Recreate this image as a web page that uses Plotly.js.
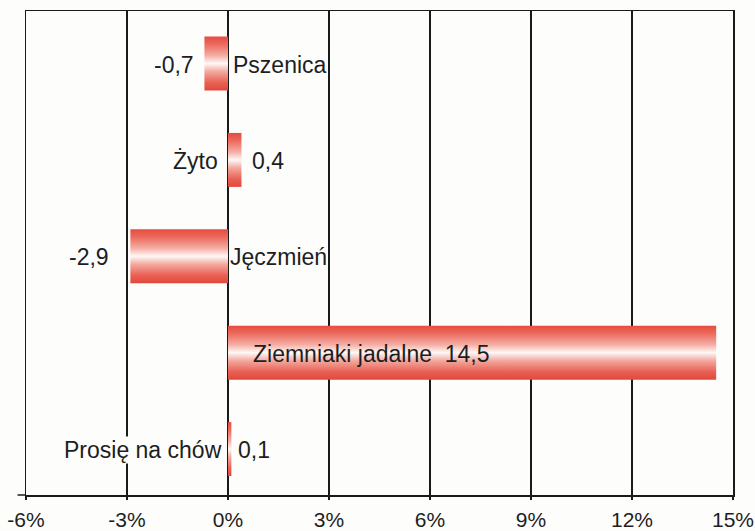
<!DOCTYPE html>
<html>
<head>
<meta charset="utf-8">
<script src="https://cdn.plot.ly/plotly-3.0.1.min.js"></script>
<style>
  html, body { margin: 0; padding: 0; background: #fdfdfc; }
  #chart { width: 755px; height: 531px; }
</style>
</head>
<body>
<div id="chart"></div>
<script>
// ---- data ----
const categories = ['Pszenica', 'Żyto', 'Jęczmień', 'Ziemniaki jadalne', 'Prosię na chów'];
const values = [-0.7, 0.4, -2.9, 14.5, 0.1];
const xTickVals = [-6, -3, 0, 3, 6, 9, 12, 15];
const xTickLabels = ['-6%', '-3%', '0%', '3%', '6%', '9%', '12%', '15%'];

// ---- label placement (styling only) ----
const namePlace = [
  { anchor: 'left', shift: 4 },
  { anchor: 'right', shift: -9 },
  { anchor: 'left', shift: 1 },
  { anchor: 'left', shift: 24, withValue: true },
  { anchor: 'right', shift: -5, bg: true }
];
const valuePlace = [
  { anchor: 'right', shift: -9 },
  { anchor: 'left', shift: 10 },
  { anchor: 'right', shift: -20 },
  null,
  { anchor: 'left', shift: 6 }
];

const fmt = v => v.toFixed(1).replace('.', ',');
const FONT = 'Liberation Sans, Arial, sans-serif';
const TXT = '#1e1e1e';
const BG = '#fdfdfc';
const FS = 23;

const annotations = [];
categories.forEach((c, i) => {
  const np = namePlace[i];
  annotations.push({
    x: 0, y: c, xref: 'x', yref: 'y',
    text: np.withValue ? c + '\u00a0\u00a0' + fmt(values[i]) : c,
    showarrow: false, xanchor: np.anchor, yanchor: 'middle',
    xshift: np.shift, yshift: -1,
    font: { family: FONT, size: FS, color: TXT },
    bgcolor: np.bg ? BG : 'rgba(0,0,0,0)', borderpad: 0
  });
  const vp = valuePlace[i];
  if (vp) {
    annotations.push({
      x: values[i], y: c, xref: 'x', yref: 'y',
      text: fmt(values[i]),
      showarrow: false, xanchor: vp.anchor, yanchor: 'middle',
      xshift: vp.shift, yshift: -1,
      font: { family: FONT, size: FS, color: TXT },
      borderpad: 0
    });
  }
});

const trace = {
  type: 'bar',
  orientation: 'h',
  y: categories,
  x: values,
  marker: { color: '#e8564a', line: { width: 0 } },
  hoverinfo: 'none'
};

const layout = {
  width: 755, height: 531,
  margin: { l: 26, r: 22, t: 11, b: 36 },
  paper_bgcolor: BG, plot_bgcolor: BG,
  showlegend: false,
  bargap: 0.44,
  xaxis: {
    range: [-6, 15],
    tickvals: xTickVals, ticktext: xTickLabels,
    showgrid: true, gridcolor: '#1a1a1a', gridwidth: 1.5,
    zeroline: true, zerolinecolor: '#1a1a1a', zerolinewidth: 1.5,
    showline: true, linecolor: '#1a1a1a', linewidth: 1.5, mirror: true,
    ticks: 'outside', ticklen: 3, tickcolor: '#1a1a1a', tickwidth: 1.5,
    ticklabelstandoff: 2,
    tickfont: { family: FONT, size: 21, color: TXT },
    fixedrange: true
  },
  yaxis: {
    type: 'category',
    categoryorder: 'array', categoryarray: categories,
    range: [4.477, -0.545],
    showticklabels: false, ticks: '',
    showgrid: false, zeroline: false,
    showline: true, linecolor: '#1a1a1a', linewidth: 1.5, mirror: true,
    fixedrange: true
  },
  shapes: [{
    type: 'line', xref: 'paper', yref: 'paper',
    x0: -0.012, x1: 0, y0: 0, y1: 0,
    line: { color: '#1a1a1a', width: 1.5 }
  }],
  annotations: annotations
};

Plotly.newPlot('chart', [trace], layout, { staticPlot: true, displayModeBar: false }).then(gd => {
  const svg = gd.querySelector('svg.main-svg');
  const NS = 'http://www.w3.org/2000/svg';
  let defs = svg.querySelector('defs');
  if (!defs) { defs = document.createElementNS(NS, 'defs'); svg.insertBefore(defs, svg.firstChild); }
  const g = document.createElementNS(NS, 'linearGradient');
  g.setAttribute('id', 'barGrad');
  g.setAttribute('x1', '0'); g.setAttribute('y1', '0');
  g.setAttribute('x2', '0'); g.setAttribute('y2', '1');
  const stops = [
    [0, '#e64b3f'], [0.15, '#ec6c5f'], [0.35, '#f4ada3'], [0.5, '#fef8f6'],
    [0.65, '#f3a89e'], [0.85, '#e96255'], [1, '#e2473b']
  ];
  stops.forEach(([o, c]) => {
    const s = document.createElementNS(NS, 'stop');
    s.setAttribute('offset', o); s.setAttribute('stop-color', c);
    g.appendChild(s);
  });
  defs.appendChild(g);
  gd.querySelectorAll('.barlayer .point path').forEach(p => {
    p.style.fill = 'url(#barGrad)';
  });
});
</script>
</body>
</html>
